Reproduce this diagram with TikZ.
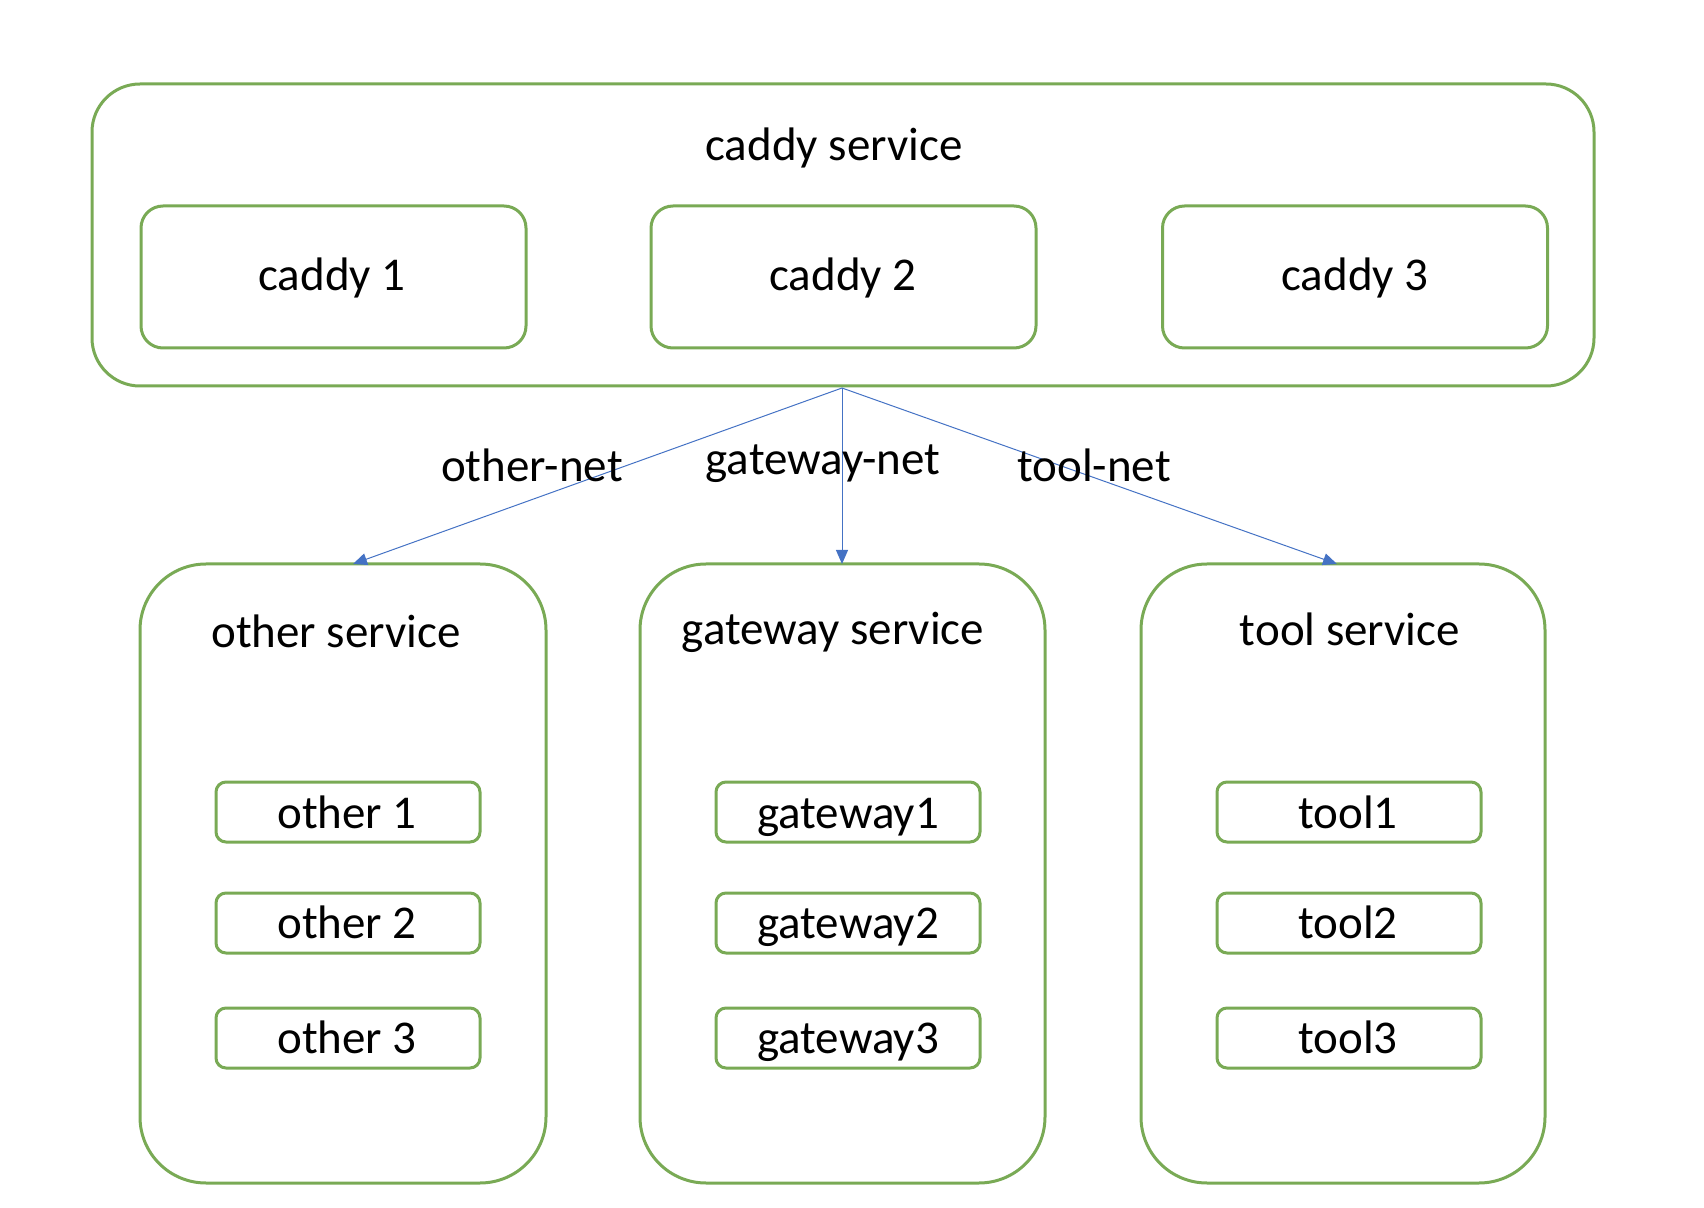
\documentclass[tikz,border=0pt]{standalone}
\usepackage{fontspec}
\setmainfont{Carlito}
\usetikzlibrary{arrows.meta}
\definecolor{grn}{HTML}{79AA55}
\definecolor{blu}{HTML}{4472C4}
\begin{document}
\begin{tikzpicture}[x=0.5pt,y=-0.5pt,
  box/.style={draw=grn, line width=1.5pt, rounded corners=#1, inner sep=0pt},
  txt/.style={inner sep=0pt, anchor=base, font=\fontsize{23.5}{28}\selectfont},
  arr/.style={draw=blu, line width=0.5pt, -{Triangle[length=7pt,width=6pt]}, shorten >=0pt}]
\useasboundingbox (0,0) rectangle (1704,1208);
% top group
\node[box=24pt, minimum width=751pt, minimum height=151pt] (outer) at (843,235) {};
\node[txt] (tcaddy) at (834,161) {caddy service};
\node[box=11pt, minimum width=192.5pt, minimum height=71pt] (c1) at (333.5,277) {};
\node[box=11pt, minimum width=192.5pt, minimum height=71pt] (c2) at (843.5,277) {};
\node[box=11pt, minimum width=192.5pt, minimum height=71pt] (c3) at (1355,277) {};
\node[txt] (c1t) at (332,291) {caddy 1};
\node[txt] (c2t) at (843,291) {caddy 2};
\node[txt] (c3t) at (1355,291) {caddy 3};
% bottom groups
\node[box=33pt, minimum width=203pt, minimum height=309.5pt] (other) at (343,873.5) {};
\node[box=33pt, minimum width=202.5pt, minimum height=309.5pt] (gateway) at (842.5,873.5) {};
\node[box=33pt, minimum width=202pt, minimum height=309.5pt] (tool) at (1343,873.5) {};
\node[txt] (othert) at (336,647) {other service};
\node[txt] (gatewayt) at (833,645) {gateway service};
\node[txt] (toolt) at (1350,646) {tool service};
% small boxes
\foreach \n/\x in {o/348,g/848,t/1349}{
  \node[box=5pt, minimum width=132pt, minimum height=30pt] (\n1) at (\x,812) {};
  \node[box=5pt, minimum width=132pt, minimum height=30pt] (\n2) at (\x,923) {};
  \node[box=5pt, minimum width=132pt, minimum height=30pt] (\n3) at (\x,1038) {};
}
\node[txt] (o1t) at (347,828) {other 1};
\node[txt] (o2t) at (347,938) {other 2};
\node[txt] (o3t) at (347,1053) {other 3};
\node[txt] (g1t) at (848,828) {gateway1};
\node[txt] (g2t) at (848,938) {gateway2};
\node[txt] (g3t) at (848,1053) {gateway3};
\node[txt] (t1t) at (1348,828) {tool1};
\node[txt] (t2t) at (1348,938) {tool2};
\node[txt] (t3t) at (1348,1053) {tool3};
% connectors
\coordinate (apex) at (842,388);
\coordinate (tO) at (353,564);
\coordinate (tG) at (842,564);
\coordinate (tT) at (1337,564);
\draw[arr] (apex) -- (tO);
\draw[arr] (apex) -- (tG);
\draw[arr] (apex) -- (tT);
\node[txt] (onet) at (532,482) {other-net};
\node[txt] (gnet) at (823,475) {gateway-net};
\node[txt] (tnet) at (1094,482) {tool-net};
\end{tikzpicture}
\end{document}
